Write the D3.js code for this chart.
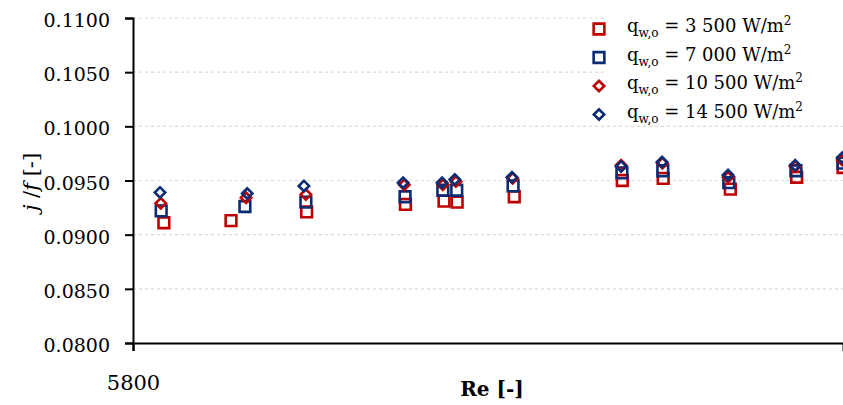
<!DOCTYPE html>
<html>
<head>
<meta charset="utf-8">
<script src="https://cdn.jsdelivr.net/npm/d3@7/dist/d3.min.js"></script>
<style>
  html, body { margin: 0; padding: 0; background: #fff; }
  svg { display: block; }
  text { font-family: "DejaVu Serif", "Liberation Serif", serif; fill: #000; }
</style>
</head>
<body>
<svg id="chart" width="843" height="405"></svg>
<script>
// Reynolds number of each measurement, per heat-flux series
const re3500  = [6200, 7070, 8050, 9330, 9830, 10000, 10740, 12140, 12670, 13540, 14400, 15000];
const re7000  = [6165, 7250, 8040, 9325, 9815, 9995, 10725, 12135, 12665, 13520, 14390, 15000];
const re10500 = [6160, 7265, 8040, 9315, 9815, 9985, 10720, 12125, 12660, 13510, 14380, 14990];
const re14500 = [6150, 7280, 8015, 9300, 9805, 9970, 10710, 12125, 12655, 13510, 14380, 14990];

// j/f ratio for each series
const jf3500  = [0.0911, 0.0913, 0.0921, 0.0928, 0.0931, 0.0930, 0.0935, 0.0950, 0.0952, 0.0942, 0.0953, 0.0962];
const jf7000  = [0.0922, 0.0926, 0.0930, 0.0935, 0.0941, 0.0941, 0.0945, 0.0957, 0.0959, 0.0948, 0.0959, 0.0966];
const jf10500 = [0.0929, 0.0934, 0.0937, 0.0946, 0.0946, 0.0949, 0.0952, 0.0964, 0.0966, 0.0953, 0.0963, 0.0969];
const jf14500 = [0.0939, 0.0938, 0.0945, 0.0948, 0.0948, 0.0951, 0.0953, 0.0963, 0.0967, 0.0955, 0.0964, 0.0971];

const fluxLabels = ["3 500", "7 000", "10 500", "14 500"];
const yTicks = [0.0800, 0.0850, 0.0900, 0.0950, 0.1000, 0.1050, 0.1100];
const xTicks = [5800];

const RED = "#c00000", BLUE = "#0b2c74";
const series = [
  { re: re3500,  jf: jf3500,  label: fluxLabels[0], color: RED,  shape: "square" },
  { re: re7000,  jf: jf7000,  label: fluxLabels[1], color: BLUE, shape: "square" },
  { re: re10500, jf: jf10500, label: fluxLabels[2], color: RED,  shape: "diamond" },
  { re: re14500, jf: jf14500, label: fluxLabels[3], color: BLUE, shape: "diamond" }
];

const svg = d3.select("#chart");
const plotLeft = 133, plotRight = 843, plotTop = 18, plotBottom = 343;

const x = d3.scaleLinear().domain([5800, 15000]).range([plotLeft, plotRight]);
const y = d3.scaleLinear().domain([0.08, 0.11]).range([plotBottom, plotTop]);

// dashed horizontal gridlines
svg.append("g")
  .selectAll("line")
  .data(yTicks.filter(d => d > 0.08))
  .join("line")
  .attr("x1", plotLeft).attr("x2", plotRight)
  .attr("y1", d => y(d)).attr("y2", d => y(d))
  .attr("stroke", "#d9d9d9")
  .attr("stroke-width", 1.2)
  .attr("stroke-dasharray", "3,3");

// legend background hides gridlines behind it
svg.append("rect")
  .attr("x", 607).attr("y", 6).attr("width", 236).attr("height", 117)
  .attr("fill", "#fff");

// y axis
const yAxis = d3.axisLeft(y).tickValues(yTicks).tickFormat(d3.format(".4f")).tickSize(8).tickPadding(15);
const gy = svg.append("g").attr("transform", `translate(${plotLeft},0)`).call(yAxis);
gy.select(".domain").attr("stroke", "#000").attr("stroke-width", 2);
gy.selectAll(".tick line").attr("stroke", "#000").attr("stroke-width", 2);
gy.selectAll(".tick text")
  .style("font-family", "DejaVu Serif, serif")
  .style("font-size", "19px")
  .attr("dy", "0.45em");

// x axis
const xAxis = d3.axisBottom(x).tickValues(xTicks).tickFormat(d3.format("d")).tickSize(8).tickPadding(19);
const gx = svg.append("g").attr("transform", `translate(0,${plotBottom})`).call(xAxis);
gx.select(".domain").attr("stroke", "#000").attr("stroke-width", 2);
gx.selectAll(".tick line").attr("stroke", "#000").attr("stroke-width", 2);
gx.selectAll(".tick text")
  .style("font-family", "DejaVu Serif, serif")
  .style("font-size", "21px")
  .attr("dy", "0.95em");

// markers
function symbolFor(shape) {
  return shape === "square"
    ? d3.symbol().type(d3.symbolSquare).size(115)()
    : d3.symbol().type(d3.symbolSquare).size(54)();
}

const plot = svg.append("g");
series.forEach(s => {
  const pts = s.re.map((r, i) => ({ re: r, jf: s.jf[i] }));
  plot.append("g")
    .selectAll("path")
    .data(pts)
    .join("path")
    .attr("d", symbolFor(s.shape))
    .attr("transform", d => `translate(${x(d.re)},${y(d.jf)})` + (s.shape === "diamond" ? " rotate(45)" : ""))
    .attr("fill", "none")
    .attr("stroke", s.color)
    .attr("stroke-width", 2.6);
});

// axis titles
svg.append("text")
  .attr("x", 492).attr("y", 396)
  .attr("text-anchor", "middle")
  .style("font-size", "20px")
  .style("font-weight", "bold")
  .text("Re [-]");

const yt = svg.append("text")
  .attr("transform", "translate(38,182) rotate(-90)")
  .attr("text-anchor", "middle")
  .style("font-size", "21px");
yt.append("tspan").style("font-style", "italic").text("j");
yt.append("tspan").text(" /");
yt.append("tspan").style("font-style", "italic").text("f");
yt.append("tspan").text(" [-]");

// legend
const legend = svg.append("g");
series.forEach((s, i) => {
  const cy = 29 + i * 28.5;
  legend.append("path")
    .attr("d", symbolFor(s.shape))
    .attr("transform", `translate(599,${cy})` + (s.shape === "diamond" ? " rotate(45)" : ""))
    .attr("fill", "none")
    .attr("stroke", s.color)
    .attr("stroke-width", 2.6);
  const t = legend.append("text")
    .attr("x", 627).attr("y", cy + 3)
    .style("font-size", "18px");
  t.append("tspan").text("q");
  t.append("tspan").attr("dy", 5).style("font-size", "12px").text("w,o");
  t.append("tspan").attr("dy", -5).text(` = ${s.label} W/m`);
  t.append("tspan").attr("dy", -7).style("font-size", "12px").text("2");
});
</script>
</body>
</html>
